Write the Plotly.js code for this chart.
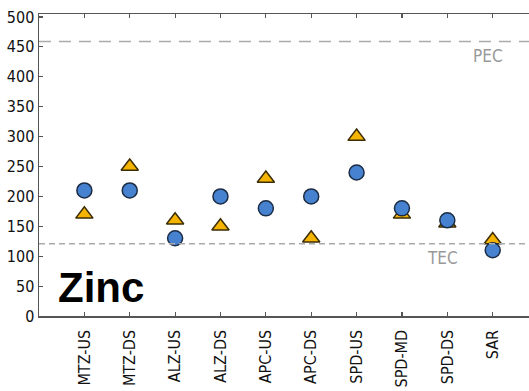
<!DOCTYPE html>
<html><head><meta charset="utf-8">
<script src="https://cdn.plot.ly/plotly-3.0.1.min.js"></script>
<style>body{margin:0;background:#fff}#c{width:529px;height:391px}</style>
</head><body><div id="c"></div>
<script>
const sites = ["MTZ-US","MTZ-DS","ALZ-US","ALZ-DS","APC-US","APC-DS","SPD-US","SPD-MD","SPD-DS","SAR"];
const triangleVals = [170, 250, 160, 150, 230, 130, 300, 170, 155, 127];
const circleVals = [210, 210, 130, 200, 180, 200, 240, 180, 160, 110];
const PEC = 459;
const TEC = 121;
const yTicks = [0,50,100,150,200,250,300,350,400,450,500];

const fontFam = "'Liberation Sans Narrow', 'DejaVu Sans Condensed', Arial, sans-serif";
const idx = sites.map((s,i)=>i);

const traces = [
  {x: idx, y: triangleVals, type:'scatter', mode:'markers', name:'tri',
   marker:{symbol:'triangle-up', size:15, color:'#f5b400', line:{color:'#3b2d05', width:1.5}}},
  {x: idx, y: circleVals, type:'scatter', mode:'markers', name:'circ',
   marker:{symbol:'circle', size:15, color:'#4682cf', line:{color:'#1c2c44', width:1.5}}}
];

const layout = {
  width:529, height:391,
  margin:{l:39, r:0, t:14, b:75},
  showlegend:false,
  paper_bgcolor:'#fff', plot_bgcolor:'#fff',
  font:{family:fontFam, color:'#111'},
  xaxis:{range:[-1,9.8], tickvals:idx, ticktext:sites, tickangle:-90,
    showgrid:false, zeroline:false, showline:true, linecolor:'#555', linewidth:1.5,
    mirror:'ticks', ticks:'inside', ticklen:4, tickcolor:'#555', tickwidth:1.2,
    tickfont:{size:16, family:fontFam, color:'#111'}, ticklabelstandoff:6},
  yaxis:{range:[0,505], tickvals:yTicks, showgrid:false, zeroline:false,
    showline:true, linecolor:'#555', linewidth:1.5,
    ticks:'inside', ticklen:4, tickcolor:'#555', tickwidth:1.2,
    tickfont:{size:16, family:fontFam, color:'#111'}},
  shapes:[
    {type:'line', xref:'paper', x0:0, x1:1, yref:'y', y0:PEC, y1:PEC,
     line:{color:'#aaa', width:1.5, dash:'12px,8px'}},
    {type:'line', xref:'paper', x0:0, x1:1, yref:'y', y0:TEC, y1:TEC,
     line:{color:'#aaa', width:1.5, dash:'6px,4px'}}
  ],
  annotations:[
    {text:'PEC', xref:'x', x:8.9, yref:'y', y:435, showarrow:false,
     font:{size:17, family:fontFam, color:'#999'}},
    {text:'TEC', xref:'x', x:7.9, yref:'y', y:97, showarrow:false,
     font:{size:17, family:fontFam, color:'#999'}},
    {text:'<b>Zinc</b>', xref:'paper', x:0.034, xanchor:'left', yref:'y', y:47, yanchor:'middle',
     showarrow:false, font:{size:42, family:'Liberation Sans, Arial, sans-serif', color:'#000'}}
  ]
};
Plotly.newPlot('c', traces, layout, {displayModeBar:false, staticPlot:true});
</script></body></html>
